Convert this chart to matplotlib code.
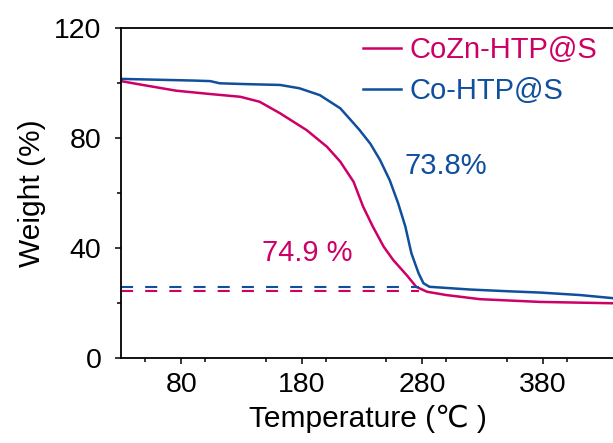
import matplotlib
matplotlib.use("Agg")
import matplotlib.pyplot as plt
from matplotlib.ticker import MultipleLocator

plt.rcParams['font.family'] = ['Liberation Sans', 'DejaVu Sans']

# TGA curves
co_temp = [30, 60, 90, 104, 112, 134, 162, 178, 195, 212, 223, 228, 237,
           245, 253, 260, 266, 271, 277, 281, 286, 303, 320, 350, 378, 411, 440]
co_weight = [101.6, 101.3, 101.0, 100.8, 100.0, 99.7, 99.4, 98.2, 95.7, 90.9,
             85.5, 83.0, 78.0, 72.1, 64.8, 56.4, 47.9, 38.2, 30.9, 27.3, 26.0,
             25.5, 25.0, 24.4, 23.9, 23.0, 21.8]

cozn_temp = [30, 48, 76, 104, 129, 145, 162, 184, 201, 212, 223, 231, 239,
             248, 256, 267, 275, 284, 300, 328, 378, 440]
cozn_weight = [100.8, 99.4, 97.3, 96.1, 95.1, 93.3, 89.1, 83.0, 76.9, 71.5,
               64.2, 55.1, 47.9, 40.6, 35.7, 30.3, 26.0, 24.2, 23.0, 21.5,
               20.5, 20.0]

# residual levels (dashed guides)
co_residue = 26.0
cozn_residue = 24.6
guide_end = 277

pink = '#CC0066'
blue = '#0F4F9C'

fig = plt.figure(figsize=(6.13, 4.43), dpi=100)
ax = fig.add_axes([121 / 613, (443 - 358.3) / 443, 494 / 613, 330 / 443])

ax.plot(cozn_temp, cozn_weight, color=pink, lw=1.8, label='CoZn-HTP@S')
ax.plot(co_temp, co_weight, color=blue, lw=1.8, label='Co-HTP@S')
ax.plot([30, guide_end], [co_residue, co_residue], color=blue, lw=1.5,
        linestyle=(0, (5.8, 5.8)))
ax.plot([30, guide_end], [cozn_residue, cozn_residue], color=pink, lw=1.5,
        linestyle=(0, (5.8, 5.8)))

ax.text(265.7, 70.0, '73.8%', color=blue, fontsize=21, va='center')
ax.text(146.8, 38.3, '74.9 %', color=pink, fontsize=21, va='center')

ax.set_xlim(30, 440)
ax.set_ylim(0, 120)
ax.set_xticks([80, 180, 280, 380])
ax.set_yticks([0, 40, 80, 120])
ax.xaxis.set_minor_locator(MultipleLocator(50))
ax.yaxis.set_minor_locator(MultipleLocator(20))
ax.tick_params(which='major', length=4, width=1.1, labelsize=20.5)
ax.tick_params(axis='y', which='major', pad=10)
ax.tick_params(axis='x', which='major', pad=6)
ax.tick_params(which='minor', length=2.6, width=1.1)
for s in ['left', 'bottom', 'top', 'right']:
    ax.spines[s].set_linewidth(1.3)

ax.set_xlabel('Temperature (℃ )', fontsize=21.5, labelpad=5)
ax.set_ylabel('Weight (%)', fontsize=21.5, labelpad=6)

leg = ax.legend(loc='upper left', bbox_to_anchor=(362.7 / 613, (443 - 36) / 443),
                bbox_transform=fig.transFigure, frameon=False, fontsize=21,
                handlelength=1.3, handletextpad=0.3, labelspacing=0.45,
                borderpad=0, borderaxespad=0, labelcolor='linecolor')

fig.savefig('out.png', dpi=100)
